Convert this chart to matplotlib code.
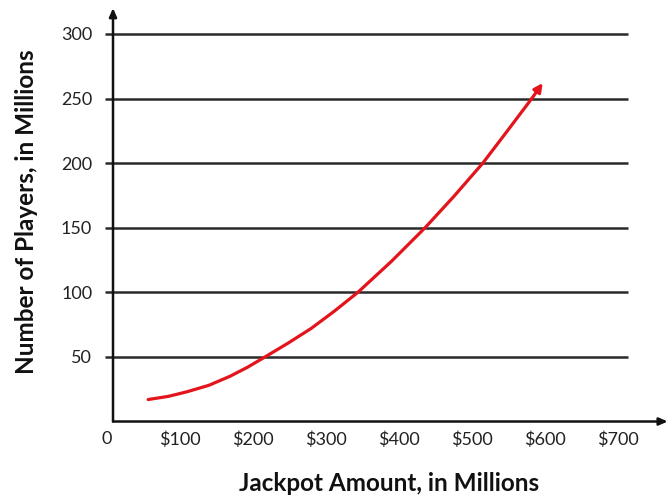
import matplotlib
matplotlib.use("Agg")
import matplotlib.pyplot as plt

# values (jackpot $M -> players M)
jackpot = [57, 85, 110, 140, 169, 193, 217, 248, 280, 312, 344, 390, 436, 475, 515, 548, 582]
players = [17, 19.5, 23, 28, 35, 42, 50, 60.5, 72, 85.5, 100, 124, 150, 174, 200, 224.5, 250]
arrow_tip = (597, 262)

x_ticks = [0, 100, 200, 300, 400, 500, 600, 700]
x_labels = ["0", "$100", "$200", "$300", "$400", "$500", "$600", "$700"]
y_ticks = [50, 100, 150, 200, 250, 300]

plt.rcParams["font.family"] = ["Lato", "DejaVu Sans"]

fig = plt.figure(figsize=(6.72, 4.99), dpi=100)
ax = fig.add_axes([0.1574, 0.1553, 0.8362, 0.8285])
ax.set_xlim(-1, 768)
ax.set_ylim(0, 320)

origin_x = 8.9
for s in ax.spines.values():
    s.set_visible(False)
ax.spines["left"].set_position(("data", origin_x))

# horizontal lines at each y tick
ax.hlines(y_ticks, -2, 714, color="#2a2a2a", lw=1.8, clip_on=False, zorder=1)

# axes drawn as arrows
ax.annotate("", xy=(768, 0), xytext=(origin_x, 0), xycoords="data",
            arrowprops=dict(arrowstyle="-|>,head_length=0.5,head_width=0.22",
                            color="#111111", lw=1.8, shrinkA=0, shrinkB=0),
            annotation_clip=False)
ax.annotate("", xy=(origin_x, 320), xytext=(origin_x, 0), xycoords="data",
            arrowprops=dict(arrowstyle="-|>,head_length=0.5,head_width=0.22",
                            color="#111111", lw=1.8, shrinkA=0, shrinkB=0),
            annotation_clip=False)

# the curve
red = "#e3141b"
ax.plot(jackpot, players, color=red, lw=2.3, solid_capstyle="round",
        solid_joinstyle="round", zorder=3)
ax.annotate("", xy=arrow_tip, xytext=(jackpot[-1], players[-1]),
            arrowprops=dict(arrowstyle="-|>,head_length=0.5,head_width=0.25",
                            color=red, lw=2.3, shrinkA=0, shrinkB=0),
            zorder=3)

ax.set_xticks(x_ticks)
ax.set_xticklabels(x_labels)
ax.set_yticks(y_ticks)
ax.tick_params(axis="x", length=0, pad=7, labelsize=13, colors="#222222")
ax.tick_params(axis="y", length=0, pad=15, labelsize=13, colors="#222222")

fig.text(0.579, 0.032, "Jackpot Amount, in Millions", ha="center", va="center",
         fontsize=17.5, fontweight="bold", color="#111111")
fig.text(0.040, 0.575, "Number of Players, in Millions", ha="center", va="center",
         rotation=90, fontsize=17.5, fontweight="bold", color="#111111")

fig.savefig("out.png", dpi=100)
